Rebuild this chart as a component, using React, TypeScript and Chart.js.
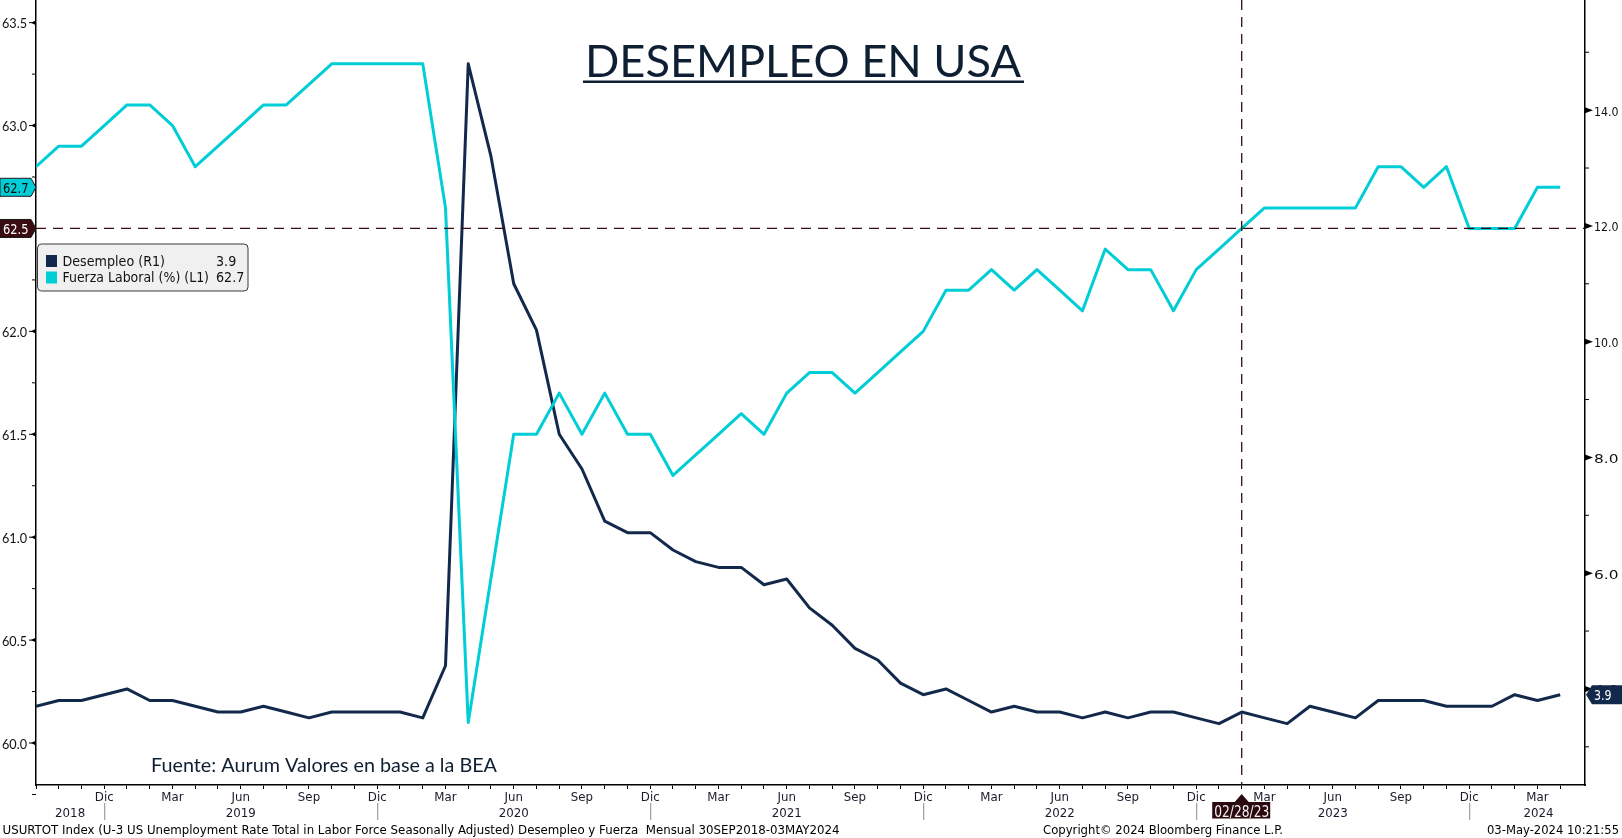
import React, { useEffect, useRef } from 'react';
import { Chart, registerables } from 'chart.js';

Chart.register(...registerables);

// Monthly observations, Sep 2018 – Apr 2024
const fechas = [
  '2018-09', '2018-10', '2018-11', '2018-12',
  '2019-01', '2019-02', '2019-03', '2019-04', '2019-05', '2019-06', '2019-07', '2019-08', '2019-09', '2019-10', '2019-11', '2019-12',
  '2020-01', '2020-02', '2020-03', '2020-04', '2020-05', '2020-06', '2020-07', '2020-08', '2020-09', '2020-10', '2020-11', '2020-12',
  '2021-01', '2021-02', '2021-03', '2021-04', '2021-05', '2021-06', '2021-07', '2021-08', '2021-09', '2021-10', '2021-11', '2021-12',
  '2022-01', '2022-02', '2022-03', '2022-04', '2022-05', '2022-06', '2022-07', '2022-08', '2022-09', '2022-10', '2022-11', '2022-12',
  '2023-01', '2023-02', '2023-03', '2023-04', '2023-05', '2023-06', '2023-07', '2023-08', '2023-09', '2023-10', '2023-11', '2023-12',
  '2024-01', '2024-02', '2024-03', '2024-04',
];

// Unemployment rate (%), right axis
const desempleo = [
  3.7, 3.8, 3.8, 3.9,
  4.0, 3.8, 3.8, 3.7, 3.6, 3.6, 3.7, 3.6, 3.5, 3.6, 3.6, 3.6,
  3.6, 3.5, 4.4, 14.8, 13.2, 11.0, 10.2, 8.4, 7.8, 6.9, 6.7, 6.7,
  6.4, 6.2, 6.1, 6.1, 5.8, 5.9, 5.4, 5.1, 4.7, 4.5, 4.1, 3.9,
  4.0, 3.8, 3.6, 3.7, 3.6, 3.6, 3.5, 3.6, 3.5, 3.6, 3.6, 3.5,
  3.4, 3.6, 3.5, 3.4, 3.7, 3.6, 3.5, 3.8, 3.8, 3.8, 3.7, 3.7,
  3.7, 3.9, 3.8, 3.9,
];

// Labour force participation rate (%), left axis
const fuerzaLaboral = [
  62.8, 62.9, 62.9, 63.0,
  63.1, 63.1, 63.0, 62.8, 62.9, 63.0, 63.1, 63.1, 63.2, 63.3, 63.3, 63.3,
  63.3, 63.3, 62.6, 60.1, 60.8, 61.5, 61.5, 61.7, 61.5, 61.7, 61.5, 61.5,
  61.3, 61.4, 61.5, 61.6, 61.5, 61.7, 61.8, 61.8, 61.7, 61.8, 61.9, 62.0,
  62.2, 62.2, 62.3, 62.2, 62.3, 62.2, 62.1, 62.4, 62.3, 62.3, 62.1, 62.3,
  62.4, 62.5, 62.6, 62.6, 62.6, 62.6, 62.6, 62.8, 62.8, 62.7, 62.8, 62.5,
  62.5, 62.5, 62.7, 62.7,
];

const nombresMes: Record<string, string> = { '12': 'Dic', '03': 'Mar', '06': 'Jun', '09': 'Sep' };
const ticksIzq = [60.0, 60.5, 61.0, 61.5, 62.0, 62.5, 63.0, 63.5];
const ticksIzqMenores = [59.75, 60.25, 60.75, 61.25, 61.75, 62.25, 62.75, 63.25];
const ticksDer = [4.0, 6.0, 8.0, 10.0, 12.0, 14.0];
const ticksDerMenores = [3.0, 5.0, 7.0, 9.0, 11.0, 13.0, 15.0];

const nivelReferencia = 62.5;
const fechaReferencia = '2023-02';
const etiquetaFechaReferencia = '02/28/23';

const titulo = 'DESEMPLEO EN USA';
const fuente = 'Fuente: Aurum Valores en base a la BEA';
const serieDesempleo = 'Desempleo (R1)';
const serieFuerza = 'Fuerza Laboral (%) (L1)';
const pieIzq = 'USURTOT Index (U-3 US Unemployment Rate Total in Labor Force Seasonally Adjusted) Desempleo y Fuerza  Mensual 30SEP2018-03MAY2024';
const pieCentro = 'Copyright\u00A9 2024 Bloomberg Finance L.P.';
const pieDer = '03-May-2024 10:21:55';

const AZUL = '#13294b';
const CIAN = '#00cdd6';
const GRANATE = '#3a0c12';

const BB_FONT = '"Liberation Sans Narrow", "DejaVu Sans Condensed", "Arial Narrow", sans-serif';
const ROUND_FONT = 'Lato, "Open Sans", sans-serif';
const TAG_FONT = '"DejaVu Sans", Verdana, sans-serif';

const X_MAX = 68.09;

type Align = 'left' | 'center' | 'right';

// Draws text, optionally stretched horizontally to a given width (or by factor k).
function texto(
  ctx: CanvasRenderingContext2D, s: string, x: number, y: number, font: string,
  color: string, align: Align, opts: { width?: number; k?: number } = {}
) {
  ctx.save();
  ctx.font = font;
  ctx.fillStyle = color;
  ctx.textBaseline = 'alphabetic';
  ctx.textAlign = 'left';
  const w = ctx.measureText(s).width;
  const k = opts.width ? opts.width / w : (opts.k ?? 1);
  const dw = w * k;
  let left = x;
  if (align === 'center') left = x - dw / 2;
  else if (align === 'right') left = x - dw;
  ctx.translate(left, y);
  ctx.scale(k, 1);
  ctx.fillText(s, 0, 0);
  ctx.restore();
}

function etiquetaIzq(ctx: CanvasRenderingContext2D, yc: number, tip: number, fill: string, fg: string, s: string) {
  const h = 9;
  ctx.save();
  ctx.beginPath();
  ctx.moveTo(0, yc - h);
  ctx.lineTo(tip - 5, yc - h);
  ctx.lineTo(tip, yc);
  ctx.lineTo(tip - 5, yc + h);
  ctx.lineTo(0, yc + h);
  ctx.closePath();
  ctx.fillStyle = fill;
  ctx.fill();
  ctx.strokeStyle = '#1a1a1a';
  ctx.lineWidth = 1;
  ctx.stroke();
  ctx.restore();
  texto(ctx, s, 3, yc + 5.5, `14px ${TAG_FONT}`, fg, 'left', { width: 25.5 });
}

const decoracion = {
  id: 'decoracion',
  afterDatasetsDraw(chart: any) {
    const { ctx, chartArea: a, scales } = chart;
    const yRef = scales.y.getPixelForValue(nivelReferencia);
    const xRef = scales.x.getPixelForValue(fechas.indexOf(fechaReferencia));
    ctx.save();
    ctx.strokeStyle = GRANATE;
    ctx.lineWidth = 1.3;
    ctx.setLineDash([10, 7]);
    ctx.beginPath();
    ctx.moveTo(a.left, yRef);
    ctx.lineTo(a.right, yRef);
    ctx.stroke();
    ctx.beginPath();
    ctx.moveTo(xRef, a.top);
    ctx.lineTo(xRef, a.bottom);
    ctx.stroke();
    ctx.restore();
  },
  afterDraw(chart: any) {
    const { ctx, chartArea: a, scales } = chart;
    const sx = scales.x, yl = scales.y, yr = scales.y2;

    // width factor for the narrow terminal-style font
    ctx.save();
    ctx.font = `13px ${BB_FONT}`;
    const k = 837 / ctx.measureText(pieIzq).width;
    ctx.restore();

    // title
    texto(ctx, titulo, 585, 77, `44px ${ROUND_FONT}`, '#0f1f33', 'left', { width: 436 });
    ctx.fillStyle = '#0f1f33';
    ctx.fillRect(583, 80.5, 441, 2.5);

    // source note
    texto(ctx, fuente, 151, 772, `19px ${ROUND_FONT}`, '#0f1f33', 'left', { width: 346 });

    // left axis ticks and labels
    ctx.save();
    ctx.fillStyle = '#000';
    ctx.strokeStyle = '#000';
    ctx.lineWidth = 1;
    for (const v of ticksIzqMenores) {
      const y = yl.getPixelForValue(v);
      ctx.beginPath();
      ctx.moveTo(a.left - 4, y);
      ctx.lineTo(a.left, y);
      ctx.stroke();
    }
    for (const v of ticksIzq) {
      const y = yl.getPixelForValue(v);
      ctx.beginPath();
      ctx.moveTo(a.left - 7, y);
      ctx.lineTo(a.left, y);
      ctx.stroke();
      ctx.beginPath();
      ctx.moveTo(a.left, y - 2.5);
      ctx.lineTo(a.left, y + 2.5);
      ctx.lineTo(a.left - 5, y);
      ctx.closePath();
      ctx.fill();
      texto(ctx, v.toFixed(1), 27, y + 5.5, `13px ${ROUND_FONT}`, '#111', 'right', { width: 25 });
    }
    // right axis ticks and labels
    for (const v of ticksDerMenores) {
      const y = yr.getPixelForValue(v);
      ctx.beginPath();
      ctx.moveTo(a.right, y);
      ctx.lineTo(a.right + 4, y);
      ctx.stroke();
    }
    for (const v of ticksDer) {
      const y = yr.getPixelForValue(v);
      ctx.beginPath();
      ctx.moveTo(a.right, y - 3);
      ctx.lineTo(a.right, y + 3);
      ctx.lineTo(a.right + 8, y);
      ctx.closePath();
      ctx.fill();
      texto(ctx, v.toFixed(1), 1594, y + 5.5, `13px ${TAG_FONT}`, '#111', 'left', { width: 24.5 });
    }
    ctx.restore();

    // month labels, year labels and year separators (first month sits on the axis, unlabeled)
    const yBase = a.bottom;
    fechas.forEach((f, i) => {
      const m = f.slice(5);
      const nm = nombresMes[m];
      if (nm && i > 0) {
        texto(ctx, nm, sx.getPixelForValue(i), yBase + 15.5, `13px ${BB_FONT}`, '#1a1a2a', 'center', { k });
      }
      if (m === '12') {
        const x = sx.getPixelForValue(i);
        ctx.save();
        ctx.strokeStyle = '#8a8a8a';
        ctx.lineWidth = 1;
        ctx.beginPath();
        ctx.moveTo(x + 0.5, yBase + 18);
        ctx.lineTo(x + 0.5, yBase + 35);
        ctx.stroke();
        ctx.restore();
      }
    });
    const anos = Array.from(new Set(fechas.map((f) => f.slice(0, 4))));
    for (const ano of anos) {
      const idx = fechas.map((f, i) => (f.startsWith(ano) ? i : -1)).filter((i) => i >= 0);
      const ene = idx[0] - (parseInt(fechas[idx[0]].slice(5), 10) - 1);
      const dic = ene + 11;
      let pos: number;
      if (ene >= 0 && dic <= X_MAX) pos = ene + 5;
      else pos = (Math.max(ene, 0) + Math.min(dic, X_MAX)) / 2;
      texto(ctx, ano, sx.getPixelForValue(pos), yBase + 31.5, `13px ${BB_FONT}`, '#1a1a2a', 'center', { k });
    }

    // footer
    texto(ctx, pieIzq, 2.5, 834, `13px ${BB_FONT}`, '#000', 'left', { width: 837 });
    texto(ctx, pieCentro, 1043, 834, `13px ${BB_FONT}`, '#000', 'left', { width: 240 });
    texto(ctx, pieDer, 1619, 834, `13px ${BB_FONT}`, '#000', 'right', { width: 132 });

    // reference date tag on the time axis
    const xRef = sx.getPixelForValue(fechas.indexOf(fechaReferencia));
    ctx.save();
    ctx.fillStyle = '#2b0a0f';
    ctx.beginPath();
    ctx.moveTo(xRef, yBase + 9);
    ctx.lineTo(xRef + 7, yBase + 17);
    ctx.lineTo(xRef - 7, yBase + 17);
    ctx.closePath();
    ctx.fill();
    ctx.fillRect(xRef - 29.5, yBase + 17, 58, 16.5);
    ctx.restore();
    texto(ctx, etiquetaFechaReferencia, xRef, yBase + 31.5, `15px ${BB_FONT}`, '#f4f4f4', 'center', { width: 55 });

    // value tags on the axes
    const ultDes = desempleo[desempleo.length - 1];
    const ultFue = fuerzaLaboral[fuerzaLaboral.length - 1];
    etiquetaIzq(ctx, yl.getPixelForValue(ultFue), a.left, CIAN, '#0a0a0a', ultFue.toFixed(1));
    etiquetaIzq(ctx, yl.getPixelForValue(nivelReferencia), a.left, GRANATE, '#ffffff', nivelReferencia.toFixed(1));

    const yc = yr.getPixelForValue(ultDes);
    ctx.save();
    ctx.beginPath();
    ctx.moveTo(a.right + 1, yc);
    ctx.lineTo(a.right + 7, yc - 9.5);
    ctx.lineTo(1622, yc - 9.5);
    ctx.lineTo(1622, yc + 9.5);
    ctx.lineTo(a.right + 7, yc + 9.5);
    ctx.closePath();
    ctx.fillStyle = AZUL;
    ctx.fill();
    ctx.restore();
    texto(ctx, ultDes.toFixed(1), 1594, yc + 5.5, `14px ${TAG_FONT}`, '#ffffff', 'left', { width: 17.5 });

    // legend
    ctx.save();
    const lx = 37.5, ly = 244, lw = 210.5, lh = 47;
    ctx.beginPath();
    ctx.roundRect(lx, ly, lw, lh, 4);
    ctx.fillStyle = '#f0f0f0';
    ctx.fill();
    ctx.strokeStyle = '#3a3a3a';
    ctx.lineWidth = 1;
    ctx.stroke();
    ctx.fillStyle = AZUL;
    ctx.fillRect(46, 255, 11, 12);
    ctx.fillStyle = CIAN;
    ctx.fillRect(46, 271.5, 11, 12);
    ctx.restore();
    texto(ctx, serieDesempleo, 62.5, 266, `14px ${BB_FONT}`, '#111', 'left', { k });
    texto(ctx, serieFuerza, 62.5, 282, `14px ${BB_FONT}`, '#111', 'left', { width: 146.5 });
    texto(ctx, ultDes.toFixed(1), 216, 266, `14px ${BB_FONT}`, '#111', 'left', { k });
    texto(ctx, ultFue.toFixed(1), 216, 282, `14px ${BB_FONT}`, '#111', 'left', { k });
  },
};

export default function App() {
  const ref = useRef<HTMLCanvasElement>(null);

  useEffect(() => {
    if (!ref.current) return;
    const chart = new Chart(ref.current, {
      type: 'line',
      data: {
        datasets: [
          {
            label: serieFuerza,
            data: fuerzaLaboral.map((v, i) => ({ x: i, y: v })),
            yAxisID: 'y',
            borderColor: CIAN,
            borderWidth: 3,
            pointRadius: 0,
            tension: 0,
            borderJoinStyle: 'round',
            order: 0,
          },
          {
            label: serieDesempleo,
            data: desempleo.map((v, i) => ({ x: i, y: v })),
            yAxisID: 'y2',
            borderColor: AZUL,
            borderWidth: 3,
            pointRadius: 0,
            tension: 0,
            borderJoinStyle: 'round',
            order: 1,
          },
        ],
      },
      options: {
        responsive: false,
        animation: false,
        devicePixelRatio: 1,
        layout: { padding: 0 },
        plugins: {
          legend: { display: false },
          tooltip: { enabled: false },
          title: { display: false },
        },
        scales: {
          x: {
            type: 'linear',
            position: 'bottom',
            min: 0,
            max: X_MAX,
            afterBuildTicks: (s: any) => {
              s.ticks = fechas.map((_, i) => ({ value: i }));
            },
            afterFit: (s: any) => {
              s.height = 53;
            },
            ticks: { display: false },
            grid: { display: true, drawOnChartArea: false, drawTicks: true, tickLength: 4, color: '#000', lineWidth: 1 },
            border: { display: true, color: '#000', width: 1.5 },
          },
          y: {
            type: 'linear',
            position: 'left',
            min: 59.796,
            max: 63.61,
            afterFit: (s: any) => {
              s.width = 36;
            },
            ticks: { display: false },
            grid: { display: false },
            border: { display: true, color: '#000', width: 1.5 },
          },
          y2: {
            type: 'linear',
            position: 'right',
            min: 2.34,
            max: 15.903,
            afterFit: (s: any) => {
              s.width = 37;
            },
            ticks: { display: false },
            grid: { display: false },
            border: { display: true, color: '#000', width: 1.5 },
          },
        },
      },
      plugins: [decoracion],
    } as any);
    return () => chart.destroy();
  }, []);

  return (
    <div style={{ position: 'absolute', left: 0, top: 0, width: 1622, height: 838, background: '#ffffff' }}>
      <canvas ref={ref} width={1622} height={838} style={{ display: 'block' }} />
    </div>
  );
}
